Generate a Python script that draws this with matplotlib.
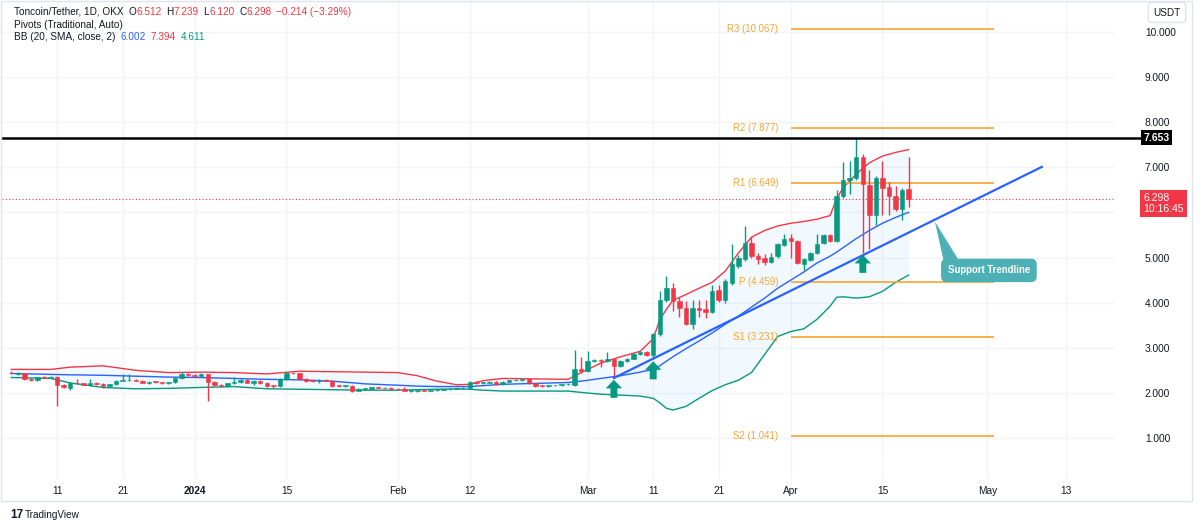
import numpy as np
import pandas as pd
import matplotlib
matplotlib.use("Agg")
import matplotlib.pyplot as plt
import matplotlib.dates as mdates
from matplotlib.patches import FancyArrow, Polygon, Rectangle

plt.rcParams["font.family"] = ["Liberation Sans", "DejaVu Sans"]

UP = "#089981"
DOWN = "#f23645"
BLUE = "#2962ff"
PIVOT = "#f7a531"
TEXT = "#131722"
GRID = "#f2f4f9"

# daily candles, Dec 4 2023 .. Apr 19 2024
dates = pd.date_range("2023-12-04", "2024-04-19", freq="D")
opens = [
    2.45, 2.42, 2.44, 2.30, 2.28, 2.35, 2.34, 2.35, 2.17, 2.11, 2.23, 2.21, 2.18, 2.22,
    2.19, 2.15, 2.19, 2.27, 2.28, 2.28, 2.27, 2.22, 2.25, 2.24, 2.21, 2.24, 2.32, 2.41,
    # Jan
    2.39, 2.38, 2.41, 2.24, 2.18, 2.15, 2.21, 2.24, 2.29, 2.23, 2.26, 2.22, 2.16, 2.15,
    2.30, 2.44, 2.43, 2.31, 2.27, 2.26, 2.29, 2.27, 2.16, 2.15, 2.16, 2.05, 2.09, 2.09,
    2.12, 2.11, 2.10,
    # Feb
    2.09, 2.08, 2.05, 2.05, 2.06, 2.05, 2.06, 2.07, 2.08, 2.09, 2.10, 2.11, 2.24, 2.22,
    2.23, 2.25, 2.19, 2.25, 2.28, 2.28, 2.30, 2.21, 2.16, 2.15, 2.17, 2.17, 2.19, 2.18,
    2.52,
    # Mar
    2.49, 2.71, 2.73, 2.71, 2.74, 2.60, 2.70, 2.76, 2.86, 2.90, 2.83, 3.30, 4.07, 4.33,
    4.04, 3.89, 3.53, 3.89, 3.85, 3.79, 4.28, 4.07, 4.44, 4.81, 4.96, 5.33, 5.04, 4.99,
    4.90, 5.03, 5.27,
    # Apr
    5.44, 5.36, 4.85, 4.94, 5.10, 5.32, 5.49, 5.36, 6.36, 6.71, 6.76, 7.24, 6.61, 5.95,
    6.76, 6.56, 6.36, 6.08, 6.512,
]
highs = [
    2.48, 2.46, 2.45, 2.32, 2.36, 2.37, 2.37, 2.37, 2.19, 2.25, 2.30, 2.23, 2.31, 2.24,
    2.21, 2.20, 2.29, 2.42, 2.42, 2.30, 2.28, 2.26, 2.27, 2.25, 2.25, 2.34, 2.47, 2.43,
    2.41, 2.43, 2.42, 2.26, 2.20, 2.23, 2.35, 2.30, 2.31, 2.28, 2.28, 2.24, 2.18, 2.32,
    2.46, 2.47, 2.45, 2.32, 2.29, 2.30, 2.30, 2.28, 2.18, 2.18, 2.17, 2.11, 2.11, 2.14,
    2.13, 2.14, 2.12,
    2.11, 2.12, 2.07, 2.07, 2.07, 2.07, 2.08, 2.09, 2.10, 2.11, 2.12, 2.27, 2.26, 2.24,
    2.27, 2.27, 2.27, 2.29, 2.30, 2.31, 2.31, 2.22, 2.18, 2.18, 2.18, 2.19, 2.21, 2.96,
    2.79,
    2.92, 2.74, 2.76, 2.90, 2.77, 2.73, 2.78, 2.88, 2.93, 2.93, 3.32, 4.25, 4.60, 4.43,
    4.12, 4.03, 4.07, 4.07, 4.06, 4.40, 4.40, 4.52, 5.29, 5.05, 5.69, 5.45, 5.10, 5.08,
    5.11, 5.33, 5.52,
    5.52, 5.40, 5.00, 5.13, 5.52, 5.52, 5.52, 6.50, 7.12, 7.13, 7.65, 7.30, 6.95, 6.80,
    7.13, 6.68, 6.58, 6.55, 7.239,
]
lows = [
    2.41, 2.40, 2.28, 2.26, 2.27, 2.32, 2.32, 1.72, 2.10, 2.06, 2.20, 2.17, 2.16, 2.17,
    2.10, 2.13, 2.18, 2.26, 2.26, 2.26, 2.21, 2.20, 2.22, 2.19, 2.19, 2.23, 2.31, 2.37,
    2.36, 2.36, 1.82, 2.15, 2.13, 2.14, 2.19, 2.22, 2.21, 2.18, 2.20, 2.13, 2.11, 2.14,
    2.29, 2.41, 2.29, 2.25, 2.24, 2.23, 2.26, 2.14, 2.12, 2.13, 2.03, 2.04, 2.07, 2.08,
    2.10, 2.09, 2.08,
    2.07, 2.04, 2.03, 2.03, 2.04, 2.04, 2.05, 2.06, 2.07, 2.08, 2.09, 2.10, 2.20, 2.20,
    2.21, 2.18, 2.18, 2.24, 2.27, 2.27, 2.20, 2.14, 2.12, 2.14, 2.15, 2.16, 2.17, 2.15,
    2.44,
    2.47, 2.68, 2.57, 2.68, 2.33, 2.58, 2.68, 2.74, 2.84, 2.82, 2.74, 3.27, 4.02, 3.81,
    3.69, 3.50, 3.41, 3.68, 3.67, 3.77, 4.02, 4.00, 4.40, 4.76, 4.92, 4.98, 4.85, 4.83,
    4.88, 5.00, 5.25,
    4.98, 4.86, 4.73, 4.92, 5.08, 5.30, 5.34, 5.34, 6.33, 6.40, 6.72, 5.10, 5.18, 5.73,
    5.95, 5.95, 6.03, 5.84, 6.120,
]
closes = [
    2.43, 2.44, 2.30, 2.28, 2.35, 2.34, 2.35, 2.17, 2.12, 2.23, 2.21, 2.18, 2.22, 2.19,
    2.15, 2.19, 2.27, 2.28, 2.28, 2.27, 2.22, 2.25, 2.24, 2.21, 2.24, 2.32, 2.41, 2.39,
    2.38, 2.41, 2.24, 2.18, 2.15, 2.21, 2.24, 2.29, 2.23, 2.26, 2.22, 2.16, 2.15, 2.30,
    2.44, 2.43, 2.31, 2.27, 2.26, 2.29, 2.27, 2.16, 2.15, 2.16, 2.05, 2.09, 2.09, 2.12,
    2.11, 2.10, 2.09,
    2.08, 2.05, 2.05, 2.06, 2.05, 2.06, 2.07, 2.08, 2.09, 2.10, 2.11, 2.24, 2.22, 2.23,
    2.23, 2.19, 2.25, 2.28, 2.28, 2.30, 2.21, 2.16, 2.15, 2.17, 2.17, 2.19, 2.20, 2.52,
    2.48,
    2.71, 2.71, 2.71, 2.75, 2.60, 2.70, 2.76, 2.86, 2.90, 2.84, 3.30, 4.07, 4.33, 4.03,
    3.89, 3.52, 3.89, 3.84, 3.80, 4.26, 4.07, 4.48, 4.85, 4.99, 5.33, 5.03, 4.96, 4.90,
    5.02, 5.29, 5.41,
    5.36, 4.88, 4.96, 5.10, 5.31, 5.49, 5.36, 6.36, 6.73, 6.76, 7.24, 6.62, 5.95, 6.76,
    6.54, 6.36, 6.08, 6.50, 6.298,
]

# Bollinger bands (20, 2)
bb_dates = [
    "2023-12-04", "2023-12-10", "2023-12-13", "2023-12-18", "2023-12-23", "2023-12-28",
    "2024-01-02", "2024-01-07", "2024-01-12", "2024-01-17", "2024-01-22", "2024-01-27",
    "2024-02-01", "2024-02-04", "2024-02-07", "2024-02-10", "2024-02-12", "2024-02-14",
    "2024-02-17", "2024-02-22", "2024-02-27", "2024-02-29", "2024-03-03", "2024-03-06",
    "2024-03-09", "2024-03-11", "2024-03-12", "2024-03-13", "2024-03-14", "2024-03-16",
    "2024-03-18", "2024-03-20", "2024-03-22", "2024-03-24", "2024-03-26", "2024-03-28",
    "2024-03-30", "2024-04-01", "2024-04-03", "2024-04-05", "2024-04-07", "2024-04-08",
    "2024-04-09", "2024-04-11", "2024-04-13", "2024-04-15", "2024-04-17", "2024-04-19",
]
bb_upper = [
    2.52, 2.52, 2.57, 2.60, 2.50, 2.45, 2.46, 2.45, 2.42, 2.48, 2.47, 2.46,
    2.45, 2.38, 2.26, 2.18, 2.19, 2.27, 2.32, 2.31, 2.30, 2.45, 2.66, 2.80,
    2.92, 3.20, 3.62, 3.85, 4.05, 4.18, 4.32, 4.45, 4.70, 5.10, 5.45, 5.60,
    5.70, 5.76, 5.80, 5.85, 5.93, 6.30, 6.55, 6.85, 7.10, 7.25, 7.33, 7.394,
]
bb_basis = [
    2.43, 2.41, 2.40, 2.39, 2.37, 2.35, 2.34, 2.32, 2.30, 2.29, 2.26, 2.20,
    2.17, 2.15, 2.14, 2.14, 2.14, 2.16, 2.19, 2.21, 2.23, 2.26, 2.32, 2.38,
    2.46, 2.52, 2.60, 2.70, 2.80, 2.98, 3.15, 3.33, 3.52, 3.70, 3.90, 4.10,
    4.32, 4.50, 4.68, 4.88, 5.03, 5.12, 5.22, 5.42, 5.60, 5.76, 5.89, 6.002,
]
bb_lower = [
    2.34, 2.32, 2.22, 2.12, 2.09, 2.10, 2.12, 2.14, 2.09, 2.08, 2.07, 2.06,
    2.06, 2.07, 2.08, 2.09, 2.08, 2.06, 2.04, 2.04, 2.04, 2.01, 1.97, 1.95,
    1.93, 1.88, 1.78, 1.66, 1.62, 1.70, 1.88, 2.05, 2.18, 2.28, 2.45, 2.85,
    3.25, 3.36, 3.42, 3.63, 3.92, 4.12, 4.13, 4.10, 4.13, 4.25, 4.45, 4.611,
]

# monthly traditional pivots for April
pivot_names = ["R3", "R2", "R1", "P", "S1", "S2"]
pivot_values = [10.067, 7.877, 6.649, 4.459, 3.231, 1.041]
pivot_span = ["2024-04-01 00:00", "2024-05-02 00:00"]

# drawings
ath_level = 7.653
last_close = 6.298
trend_dates = ["2024-03-05 00:00", "2024-05-09 08:00"]
trend_prices = [2.33, 7.01]
arrow_dates = ["2024-03-05", "2024-03-11", "2024-04-12"]

xtick_dates = ["2023-12-11", "2023-12-21", "2024-01-01", "2024-01-15", "2024-02-01",
               "2024-02-12", "2024-03-01", "2024-03-11", "2024-03-21", "2024-04-01",
               "2024-04-15", "2024-05-01", "2024-05-13"]
xtick_labels = ["11", "21", "2024", "15", "Feb", "12", "Mar", "11", "21", "Apr", "15",
                "May", "13"]
ytick_values = list(range(1, 11))

W, H = 1200, 528
fig = plt.figure(figsize=(W / 100, H / 100), dpi=100)
ax = fig.add_axes([2 / W, (H - 478) / H, 1113 / W, 476 / H])


def num(seq):
    return mdates.date2num([pd.Timestamp(s) for s in seq])


x = mdates.date2num(dates)
o, h, l, c = (np.array(a) for a in (opens, highs, lows, closes))
assert len(x) == len(o) == len(h) == len(l) == len(c)
col = np.where(c >= o, UP, DOWN)

# bands
bx = num(bb_dates)
ax.fill_between(bx, bb_lower, bb_upper, color="#2196f3", alpha=0.06, lw=0, zorder=1)
ax.plot(bx, bb_upper, color=DOWN, lw=1, zorder=2)
ax.plot(bx, bb_basis, color=BLUE, lw=1, zorder=2)
ax.plot(bx, bb_lower, color=UP, lw=1, zorder=2)

# candles
ax.vlines(x, l, h, colors=col, lw=1, zorder=3)
body = np.maximum(np.abs(c - o), 0.015)
ax.bar(x, body, bottom=np.minimum(o, c), width=0.68, color=col, edgecolor=col,
       lw=0.4, zorder=4)

# pivots
p0, p1 = num(pivot_span)
ax.hlines(pivot_values, p0, p1, color=PIVOT, lw=1.2, zorder=2)
for name, v in zip(pivot_names, pivot_values):
    ax.text(p0 - 1.9, v, f"{name} ({v:.3f})", ha="right", va="center",
            color=PIVOT, fontsize=6.9, zorder=5)

# horizontal levels
ax.axhline(last_close, color=DOWN, lw=0.8, ls=(0, (1, 2)), zorder=2)
ax.plot([0, 1.0225], [ath_level, ath_level], color="black", lw=1.8,
        transform=ax.get_yaxis_transform(), clip_on=False, zorder=5)

# trendline
tx = num(trend_dates)
ax.plot(tx, trend_prices, color=BLUE, lw=1.6, zorder=5)

# arrows under the touch points
for d in arrow_dates:
    i = dates.get_loc(pd.Timestamp(d))
    tip = lows[i] - 0.04
    ax.add_patch(FancyArrow(x[i], tip - 0.40, 0, 0.40, width=1.05, head_width=2.5,
                            head_length=0.19, length_includes_head=True,
                            color=UP, lw=0, zorder=6))

# callout
slope = (trend_prices[1] - trend_prices[0]) / (tx[1] - tx[0])
tip_x = num(["2024-04-23"])[0]
tip_y = trend_prices[0] + slope * (tip_x - tx[0]) - 0.04
box_c = num(["2024-05-01 06:00"])[0]
ax.add_patch(Polygon([[tip_x, tip_y], [tip_x + 1.3, 4.95], [tip_x + 3.6, 4.95]],
                     closed=True, fc="#4cb0b5", ec="none", zorder=6))
ax.text(box_c, 4.715, "Support Trendline", ha="center", va="center", color="white",
        fontsize=6.9, fontweight="bold", zorder=7,
        bbox=dict(boxstyle="round,pad=0.7,rounding_size=0.6", fc="#4cb0b5", ec="none"))

# axes styling
ax.set_xlim(num(["2023-12-02 14:00", "2024-05-20 12:00"]))
ax.set_ylim(0.113, 10.665)
ax.set_xticks(num(xtick_dates))
ax.set_xticklabels(xtick_labels)
for t in ax.get_xticklabels():
    if t.get_text() == "2024":
        t.set_fontweight("bold")
ax.yaxis.tick_right()
ax.set_yticks(ytick_values)
# the 6.000 label sits under the last-price tag
ax.set_yticklabels(["" if abs(v - last_close) < 0.5 else f"{v:.3f}" for v in ytick_values])
ax.tick_params(axis="y", length=0, pad=21.5, labelsize=7.3, labelcolor=TEXT)
ax.tick_params(axis="x", length=0, pad=6, labelsize=7.3, labelcolor=TEXT)
ax.grid(True, color=GRID, lw=1, zorder=0)
ax.set_axisbelow(True)
for s in ax.spines.values():
    s.set_visible(False)

# price scale labels
ax.annotate(f"{ath_level:.3f}", xy=(1, ath_level), xycoords=("axes fraction", "data"),
            xytext=(20.5, 0), textcoords="offset points", ha="left", va="center",
            color="white", fontsize=7.5, fontweight="bold", annotation_clip=False,
            bbox=dict(boxstyle="square,pad=0.25", fc="black", ec="none"), zorder=8)
ax.annotate(f"{last_close:.3f}\n10:16:45", xy=(1, last_close),
            xycoords=("axes fraction", "data"), xytext=(20.5, 4.5),
            textcoords="offset points", ha="left", va="top", color="white",
            fontsize=7.5, linespacing=1.2, annotation_clip=False,
            bbox=dict(boxstyle="square,pad=0.3", fc=DOWN, ec="none"), zorder=8)
fig.text(1167 / W, 1 - 12.5 / H, "USDT", ha="center", va="center", fontsize=7.2,
         color=TEXT, bbox=dict(boxstyle="round,pad=0.5,rounding_size=0.3", fc="white",
                               ec="#e0e3eb", lw=1))

# chart frame
fig.add_artist(Rectangle((0.5 / W, 1 - 501 / H), 1191 / W, 500.5 / H, fill=False,
                         ec="#e0e3eb", lw=1, transform=fig.transFigure))


# legend lines top left
def legend_line(y, parts, size=7.2):
    t = fig.text(14 / W, 1 - y / H, parts[0][0], color=parts[0][1], fontsize=size,
                 va="center", ha="left")
    for s, color, gap in parts[1:]:
        t = ax.annotate(s, xy=(1, 0.5), xycoords=t, xytext=(gap, 0),
                        textcoords="offset points", va="center", ha="left",
                        color=color, fontsize=size, annotation_clip=False)


legend_line(12, [("Toncoin/Tether, 1D, OKX", TEXT), ("O", TEXT, 3.5), ("6.512", DOWN, 0),
                 ("H", TEXT, 3.5), ("7.239", DOWN, 0), ("L", TEXT, 3.5), ("6.120", DOWN, 0),
                 ("C", TEXT, 3.5), ("6.298", DOWN, 0),
                 ("\u22120.214 (\u22123.29%)", DOWN, 3.5)])
legend_line(24.5, [("Pivots (Traditional, Auto)", TEXT)])
legend_line(36.5, [("BB (20, SMA, close, 2)", TEXT), ("6.002", BLUE, 3.5),
                   ("7.394", DOWN, 3.5), ("4.611", UP, 3.5)])

# footer logo
fig.text(10 / W, 1 - 515 / H, "17", fontsize=8.5, fontweight="bold", color=TEXT,
         va="center", ha="left")
fig.text(25 / W, 1 - 515 / H, "TradingView", fontsize=7.2, color=TEXT,
         va="center", ha="left")

fig.savefig("out.png", dpi=100, facecolor="white")
